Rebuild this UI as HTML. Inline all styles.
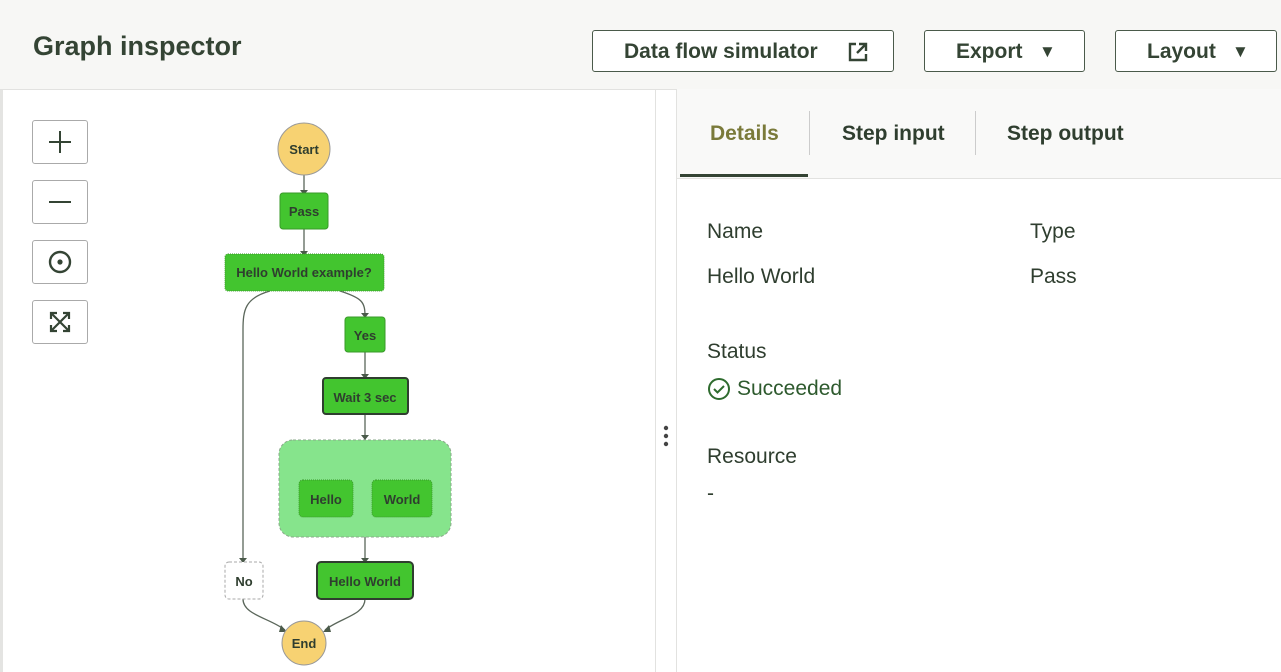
<!DOCTYPE html>
<html><head><style>
body{margin:0;width:1281px;height:672px;overflow:hidden;background:#fff;font-family:"Liberation Sans",sans-serif;color:#2f3e2f;position:relative}
.hdr{position:absolute;left:0;top:0;width:1281px;height:89px;background:#f7f7f5;border-bottom:1px solid #e2e2e0}
.title{position:absolute;left:33px;top:31px;font-size:27px;font-weight:bold;color:#344434}
.btn{position:absolute;top:30px;height:42px;border:1px solid #4a5a4a;border-radius:3px;background:#fff;box-sizing:border-box;font-size:21px;font-weight:bold;color:#344434;line-height:42px;text-align:center}
.zb{position:absolute;left:32px;width:56px;height:44px;border:1px solid #aaa;border-radius:3px;box-sizing:border-box;background:#fff}
.lbl{position:absolute;font-size:21px;color:#2f3e2f}
svg text{font-family:"Liberation Sans",sans-serif;font-weight:bold}
</style></head><body>
<div style="position:absolute;left:0;top:89px;width:3px;height:583px;background:#e4e4e2"></div>
<div class="hdr"></div>
<div class="title">Graph inspector</div>
<div class="btn" style="left:592px;width:302px;text-align:left;padding-left:31px">Data flow simulator
<svg style="position:absolute;left:255px;top:11px" width="20" height="20" viewBox="0 0 20 20" fill="none" stroke="#344434" stroke-width="2.4"><path d="M8 2H2v16h16v-6"/><path d="M11 2h7v7M18 2L9 11"/></svg></div>
<div class="btn" style="left:924px;width:161px;text-align:left;padding-left:31px">Export<span style="position:absolute;left:114px;font-size:17px">▼</span></div>
<div class="btn" style="left:1115px;width:162px;text-align:left;padding-left:31px">Layout<span style="position:absolute;left:116px;font-size:17px">▼</span></div>

<div class="zb" style="top:120px"><svg width="54" height="42"><path d="M27 10v22M16 21h22" stroke="#344434" stroke-width="2"/></svg></div>
<div class="zb" style="top:180px"><svg width="54" height="42"><path d="M16 21h22" stroke="#344434" stroke-width="2"/></svg></div>
<div class="zb" style="top:240px"><svg width="54" height="42"><circle cx="27" cy="21" r="10" fill="none" stroke="#344434" stroke-width="2.4"/><circle cx="27" cy="21" r="2.6" fill="#344434"/></svg></div>
<div class="zb" style="top:300px"><svg width="54" height="42"><g stroke="#344434" stroke-width="2.2" fill="none"><path d="M18 12l18 18M36 12L18 30"/><path d="M18 18v-6h6M30 12h6v6M36 24v6h-6M24 30h-6v-6"/></g></svg></div>

<svg style="position:absolute;left:0;top:0" width="660" height="672">
<g stroke="#5a665a" stroke-width="1.3" fill="none">
<path d="M304 175V192"/><path d="M304 229V254"/>
<path d="M270 291C245 298 243 310 243 330V562"/>
<path d="M340 291C362 298 365 302 365 316"/>
<path d="M365 352V377"/>
<path d="M365 414V440"/>
<path d="M365 440V448C365 458 327 452 327 468V480M365 448C365 458 402 452 402 468V480"/>
<path d="M365 537V562"/>
<path d="M243 599C243 615 270 618 285 630"/>
<path d="M365 599C365 615 340 618 325 630"/>
</g>
<g fill="#4a5a4a">
<path d="M300 190h8l-4 5z"/><path d="M300 251h8l-4 5z"/><path d="M361 313h8l-4 5z"/><path d="M361 374h8l-4 5z"/><path d="M361 435h8l-4 5z"/><path d="M361 558h8l-4 5z"/><path d="M239 558h8l-4 5z"/><path d="M281 625l6 7-8 0z"/><path d="M329 625l-6 7 8 0z"/>
</g>
<circle cx="304" cy="149" r="26" fill="#f7d272" stroke="#999" stroke-width="1"/>
<text x="304" y="154" font-size="13" text-anchor="middle" fill="#2f3e2f">Start</text>
<rect x="280" y="193" width="48" height="36" rx="3" fill="#43c52f" stroke="#3a9a2a"/>
<text x="304" y="216" font-size="13" text-anchor="middle" fill="#2f3e2f">Pass</text>
<rect x="225" y="254" width="159" height="37" rx="3" fill="#43c52f" stroke="#3a9a2a" stroke-dasharray="1 1"/>
<text x="304" y="277" font-size="13" text-anchor="middle" fill="#2f3e2f">Hello World example?</text>
<rect x="345" y="317" width="40" height="35" rx="3" fill="#43c52f" stroke="#3a9a2a"/>
<text x="365" y="340" font-size="13" text-anchor="middle" fill="#2f3e2f">Yes</text>
<rect x="323" y="378" width="85" height="36" rx="3" fill="#43c52f" stroke="#2f3e2f" stroke-width="2"/>
<text x="365" y="402" font-size="13" text-anchor="middle" fill="#2f3e2f">Wait 3 sec</text>
<rect x="279" y="440" width="172" height="97" rx="14" fill="#86e48c" stroke="#8aa88a" stroke-dasharray="3 2"/>
<rect x="299" y="480" width="54" height="37" rx="4" fill="#43c52f" stroke="#3a9a2a" stroke-dasharray="1 1"/>
<text x="326" y="504" font-size="13" text-anchor="middle" fill="#2f3e2f">Hello</text>
<rect x="372" y="480" width="60" height="37" rx="4" fill="#43c52f" stroke="#3a9a2a" stroke-dasharray="1 1"/>
<text x="402" y="504" font-size="13" text-anchor="middle" fill="#2f3e2f">World</text>
<rect x="225" y="562" width="38" height="37" rx="4" fill="#fff" stroke="#aaa" stroke-dasharray="3 2"/>
<text x="244" y="586" font-size="13" text-anchor="middle" fill="#2f3e2f">No</text>
<rect x="317" y="562" width="96" height="37" rx="4" fill="#43c52f" stroke="#2f3e2f" stroke-width="2"/>
<text x="365" y="586" font-size="13" text-anchor="middle" fill="#2f3e2f">Hello World</text>
<circle cx="304" cy="643" r="22" fill="#f7d272" stroke="#999"/>
<text x="304" y="648" font-size="13" text-anchor="middle" fill="#2f3e2f">End</text>
</svg>

<div style="position:absolute;left:655px;top:89px;width:1px;height:583px;background:#e2e2e0"></div>
<div style="position:absolute;left:676px;top:89px;width:1px;height:583px;background:#e2e2e0"></div>
<svg style="position:absolute;left:662px;top:424px" width="8" height="26"><circle cx="4" cy="4" r="2.2" fill="#444"/><circle cx="4" cy="12" r="2.2" fill="#444"/><circle cx="4" cy="20" r="2.2" fill="#444"/></svg>
<div style="position:absolute;left:677px;top:89px;width:604px;height:89px;background:#f9f9f8;border-bottom:1px solid #e2e2e0"></div>
<div style="position:absolute;left:680px;top:174px;width:128px;height:3px;background:#344434"></div>
<div style="position:absolute;left:809px;top:111px;width:1px;height:44px;background:#ccc"></div>
<div style="position:absolute;left:975px;top:111px;width:1px;height:44px;background:#ccc"></div>
<div class="lbl" style="left:710px;top:122px;font-weight:bold;color:#7a7a3a">Details</div>
<div class="lbl" style="left:842px;top:122px;font-weight:bold">Step input</div>
<div class="lbl" style="left:1007px;top:122px;font-weight:bold">Step output</div>
<div class="lbl" style="left:707px;top:220px">Name</div>
<div class="lbl" style="left:1030px;top:220px">Type</div>
<div class="lbl" style="left:707px;top:265px">Hello World</div>
<div class="lbl" style="left:1030px;top:265px">Pass</div>
<div class="lbl" style="left:707px;top:340px">Status</div>
<svg style="position:absolute;left:707px;top:377px" width="24" height="24"><circle cx="12" cy="12" r="10" fill="none" stroke="#2e6b2e" stroke-width="2"/><path d="M7 12l3.5 3.5L17 9" fill="none" stroke="#2e6b2e" stroke-width="2"/></svg>
<div class="lbl" style="left:737px;top:377px;color:#2e5a2e">Succeeded</div>
<div class="lbl" style="left:707px;top:445px">Resource</div>
<div class="lbl" style="left:707px;top:482px">-</div>
</body></html>
